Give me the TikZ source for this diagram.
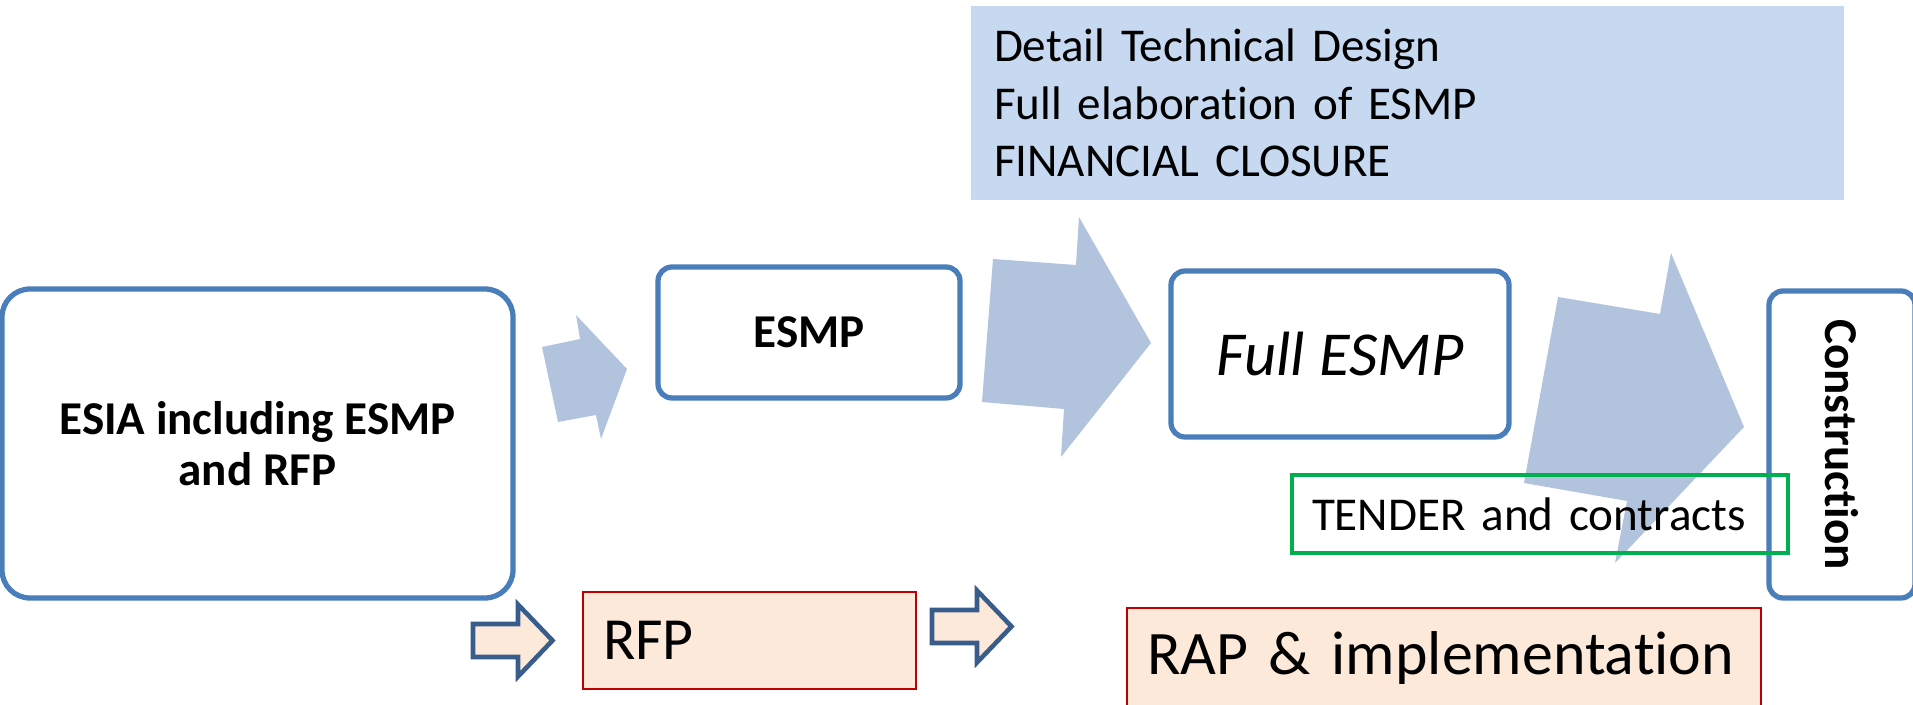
\documentclass[tikz,border=0pt]{standalone}
\usepackage{fontspec}
\setmainfont{Carlito}[Ligatures=NoCommon]
\usepackage{xcolor}
\usepackage{amsmath, amssymb}

\definecolor{boxblue}{HTML}{4A7EBB}
\definecolor{flowblue}{HTML}{B2C3DE}
\definecolor{bannerblue}{HTML}{C6D9F1}
\definecolor{peach}{HTML}{FDE9D9}
\definecolor{rfpred}{HTML}{C00000}
\definecolor{tendergreen}{HTML}{00B050}
\definecolor{hintblue}{HTML}{385D8A}

\begin{document}
\begin{tikzpicture}[every node/.style={inner sep=0pt},
  stage/.style={draw=boxblue, line width=1.5pt, rounded corners=0.14cm, fill=white, align=center,
    font=\bfseries\fontsize{13.4}{14.5}\selectfont},
  task/.style={rectangle, align=left, font=\fontsize{13.4}{16.4}\selectfont},
  resettle/.style={rectangle, draw=rfpred, line width=0.6pt, fill=peach, align=left, inner xsep=0.2cm},
  flow/.style={fill=flowblue},
  hint/.style={draw=hintblue, line width=1.3pt, fill=peach, line join=miter}]
  \useasboundingbox (0,0) rectangle (19.13,7.04);

  % Top banner
  \node[task, fill=bannerblue, minimum width=8.73cm, minimum height=1.94cm, text width=8.27cm, inner xsep=0.23cm] (design) at (14.075,6.01)
    {Detail Technical Design\\Full elaboration of ESMP\\FINANCIAL CLOSURE};

  % Stages
  \node[stage, rounded corners=0.28cm, minimum width=5.11cm, minimum height=3.09cm] (esia) at (2.575,2.605) {ESIA including ESMP\\and RFP};
  \node[stage, minimum width=3.02cm, minimum height=1.31cm] (esmp) at (8.09,3.715) {ESMP};
  \node[stage, font=\itshape\fontsize{17.8}{20}\selectfont, minimum width=3.38cm, minimum height=1.66cm] (full) at (13.40,3.50) {Full ESMP};
  \node[stage, rotate=-90, minimum width=3.07cm, minimum height=1.46cm] (constr) at (18.42,2.595) {Construction};

  % Flow arrows
  \fill[flow] (5.42,3.57) -- (5.80,3.65) -- (5.76,3.89) -- (6.27,3.35) -- (6.01,2.65) -- (5.96,2.89) -- (5.58,2.82) -- cycle;
  \fill[flow] (9.93,4.45) -- (10.76,4.39) -- (10.79,4.87) -- (11.51,3.61) -- (10.61,2.47) -- (10.64,2.95) -- (9.82,3.02) -- cycle;
  \fill[flow] (15.58,4.07) -- (16.60,3.90) -- (16.71,4.51) -- (17.44,2.77) -- (16.15,1.41) -- (16.27,2.03) -- (15.24,2.21) -- cycle;

  % Tender
  \node[task, draw=tendergreen, line width=1.4pt, minimum width=4.96cm, minimum height=0.78cm, text width=4.56cm, inner xsep=0.2cm] (tender) at (15.40,1.90)
    {TENDER and contracts};

  % Resettlement
  \node[resettle, minimum width=3.33cm, minimum height=0.97cm, text width=2.93cm, font=\fontsize{17}{20}\selectfont] (rfp) at (7.495,0.635) {RFP};
  \node[resettle, minimum width=6.34cm, minimum height=1.00cm, text width=5.94cm, font=\fontsize{17.6}{20}\selectfont] (rap) at (14.44,0.46) {RAP \& implementation};

  \foreach \x/\y in {4.73/0.635, 9.32/0.775} {
    \draw[hint] (\x,\y+0.165) -- ++(0.45,0) -- ++(0,0.195) -- ++(0.345,-0.36) -- ++(-0.345,-0.36) -- ++(0,0.195) -- ++(-0.45,0) -- cycle;
  }
\end{tikzpicture}
\end{document}
